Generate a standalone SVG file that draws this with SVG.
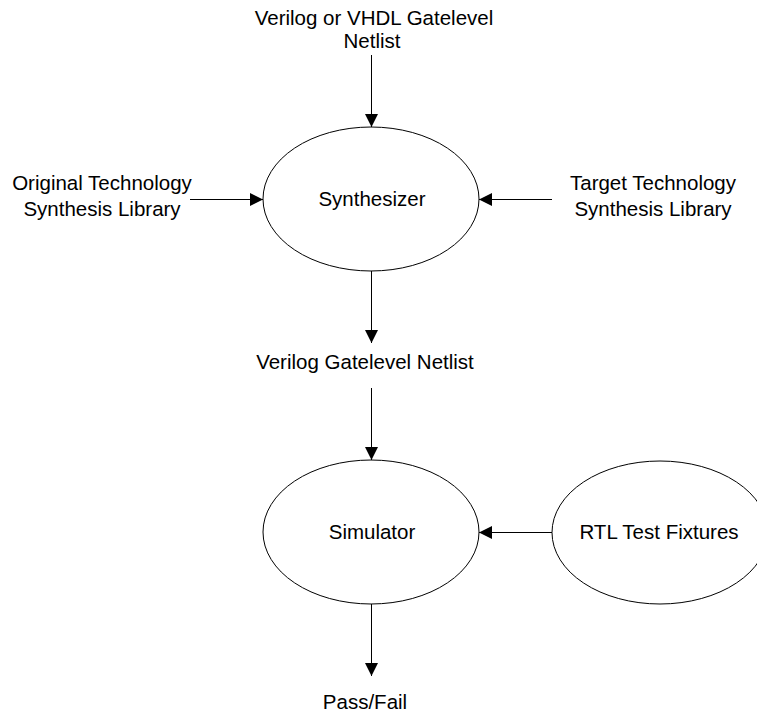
<svg xmlns="http://www.w3.org/2000/svg" width="757" height="715" viewBox="0 0 757 715">
  <style>
    text { font-family: "Liberation Sans", Arial, sans-serif; font-size: 20.5px; fill: #000; text-anchor: middle; }
    .node ellipse { fill: #fff; stroke: #000; stroke-width: 1; }
    .edge { stroke: #000; stroke-width: 1; fill: none; marker-end: url(#arrow); }
  </style>
  <defs>
    <marker id="arrow" markerWidth="13" markerHeight="13" refX="13" refY="6.5" orient="auto" markerUnits="userSpaceOnUse">
      <path d="M0,0 L13,6.5 L0,13 Z" fill="#000"/>
    </marker>
  </defs>

  <rect width="757" height="715" fill="#fff"/>

  <!-- connectors -->
  <g id="connectors">
    <line class="edge" x1="371.5" y1="55" x2="371.5" y2="127"/>
    <line class="edge" x1="190" y1="199.5" x2="263" y2="199.5"/>
    <line class="edge" x1="552" y1="199.5" x2="479" y2="199.5"/>
    <line class="edge" x1="371.5" y1="271" x2="371.5" y2="343"/>
    <line class="edge" x1="371.5" y1="388" x2="371.5" y2="460"/>
    <line class="edge" x1="552" y1="532.5" x2="479" y2="532.5"/>
    <line class="edge" x1="371.5" y1="604" x2="371.5" y2="676"/>
  </g>

  <!-- input / output labels -->
  <g id="input-netlist">
    <text x="374" y="25">Verilog or VHDL Gatelevel</text>
    <text x="372" y="48">Netlist</text>
  </g>
  <g id="original-library">
    <text x="102" y="190">Original Technology</text>
    <text x="102" y="216">Synthesis Library</text>
  </g>
  <g id="target-library">
    <text x="653" y="190">Target Technology</text>
    <text x="653" y="216">Synthesis Library</text>
  </g>
  <g id="gatelevel-netlist">
    <text x="365" y="369">Verilog Gatelevel Netlist</text>
  </g>
  <g id="pass-fail">
    <text x="365" y="709">Pass/Fail</text>
  </g>

  <!-- process nodes -->
  <g id="synthesizer" class="node">
    <ellipse cx="371" cy="199" rx="108" ry="72"/>
    <text x="372" y="206">Synthesizer</text>
  </g>
  <g id="simulator" class="node">
    <ellipse cx="371" cy="532" rx="108" ry="72"/>
    <text x="372" y="539">Simulator</text>
  </g>
  <g id="rtl-test-fixtures" class="node">
    <ellipse cx="660" cy="532.5" rx="108" ry="71.5"/>
    <text x="659" y="539">RTL Test Fixtures</text>
  </g>
</svg>
